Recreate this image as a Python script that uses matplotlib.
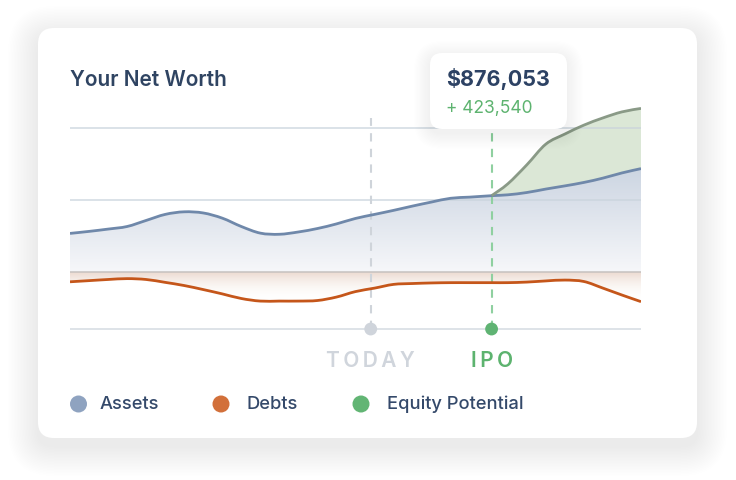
import numpy as np
import matplotlib
matplotlib.use('Agg')
import matplotlib.pyplot as plt
from matplotlib.patches import FancyBboxPatch, Circle, PathPatch
from matplotlib.path import Path
from matplotlib.colors import LinearSegmentedColormap

plt.rcParams['font.family'] = ['Inter', 'DejaVu Sans']

# data, months since start, values in $k
months = [0, 2, 4, 6, 8, 10, 12, 14, 16, 18, 20, 22, 24, 26, 28, 30, 32, 34, 36, 38, 40, 42,
          44.3, 46, 48, 50, 52, 54, 56, 58, 60]
assets = [134, 141, 149, 158, 179, 200, 209, 205, 187, 158, 135, 131, 139, 151, 167, 186, 200, 214,
          229, 243, 256, 260, 265, 268, 276, 288, 299, 311, 326, 344, 359]
debts = [-34, -30, -26, -23, -26, -36, -47, -61, -76, -92, -101, -101, -101, -99, -87, -68, -56, -43,
         -40, -38, -37, -37, -37, -37, -35, -31, -28, -33, -56, -80, -103]
equity_start = 22  # index of the IPO month
equity = [265, 306, 372, 444, 479, 510, 535, 556, 568]

today_x = 31.6
ipo_x = 44.3
y_floor = -198
grid_levels = [250, 500]
markers = ['TODAY', 'IPO']

title = 'Your Net Worth'
tooltip_value = '$876,053'
tooltip_gain = '+ 423,540'
legend_labels = ['Assets', 'Debts', 'Equity Potential']
legend_colors = ['#8fa3c0', '#d2703a', '#62b574']

W, H = 736, 480
fig = plt.figure(figsize=(W / 100, H / 100), dpi=100)
fig.patch.set_facecolor('white')

# background layer: card + shadow + title + legend (pixel coords)
bg = fig.add_axes([0, 0, 1, 1], zorder=0)
bg.set_xlim(0, W)
bg.set_ylim(H, 0)
bg.axis('off')


def soft_box(ax, x0, y0, w, h, r, layers, spread, dy, alpha, z):
    for i in range(layers, 0, -1):
        e = spread * i / layers
        ax.add_patch(FancyBboxPatch((x0 - e, y0 - e + dy), w + 2 * e, h + 2 * e,
                                    boxstyle=f'round,pad=0,rounding_size={r + e}',
                                    fc='#000000', ec='none', alpha=alpha, zorder=z))
    ax.add_patch(FancyBboxPatch((x0, y0), w, h, boxstyle=f'round,pad=0,rounding_size={r}',
                                fc='white', ec='none', zorder=z + 1))


soft_box(bg, 38, 28, 659, 410, 16, 20, 30, 8, 0.0022, 1)

bg.text(70, 79.5, title, fontsize=15, fontweight='semibold', color='#2f4462', va='center', zorder=5)

legend_dot_x = [78.5, 221, 361]
legend_text_x = [100, 247, 387]
for lx, tx, lab, col in zip(legend_dot_x, legend_text_x, legend_labels, legend_colors):
    bg.add_patch(Circle((lx, 404), 8.5, fc=col, ec='none', zorder=5))
    bg.text(tx, 404.5, lab, fontsize=13.2, fontweight='medium', color='#34496a',
            va='center', zorder=5)

# chart layer
top_px, bot_px = 90, 340
ax = fig.add_axes([70 / W, (H - bot_px) / H, 571 / W, (bot_px - top_px) / H], zorder=1)
ax.patch.set_alpha(0)
ax.axis('off')
px2val = 250 / 72
ylo, yhi = (272 - bot_px) * px2val, (272 - top_px) * px2val

x = np.array(months, dtype=float)
a = np.array(assets, dtype=float)
d = np.array(debts, dtype=float)
ex = x[equity_start:]
e = np.array(equity, dtype=float)


def smooth(xs, ys):
    # Catmull-Rom through the read points, as cubic bezier segments
    p = np.column_stack([xs, ys])
    pp = np.vstack([p[0], p, p[-1]])
    verts = [p[0]]
    for i in range(len(p) - 1):
        p0, p1, p2, p3 = pp[i], pp[i + 1], pp[i + 2], pp[i + 3]
        verts += [p1 + (p2 - p0) / 6, p2 - (p3 - p1) / 6, p2]
    return verts


def curve_path(xs, ys):
    v = smooth(xs, ys)
    return Path(v, [Path.MOVETO] + [Path.CURVE4] * (len(v) - 1))


def band_path(xs, top, bottom):
    vt = smooth(xs, top)
    vb = smooth(xs, bottom)[::-1]
    verts = vt + vb + [vt[0]]
    codes = ([Path.MOVETO] + [Path.CURVE4] * (len(vt) - 1) +
             [Path.LINETO] + [Path.CURVE4] * (len(vb) - 1) + [Path.CLOSEPOLY])
    return Path(verts, codes)


def gradient_fill(path, xs, c_lo, c_hi, v_lo, v_hi, z):
    cmap = LinearSegmentedColormap.from_list('g', [c_lo, c_hi])
    grad = np.linspace(0, 1, 256).reshape(-1, 1)
    im = ax.imshow(grad, extent=[xs[0], xs[-1], v_lo, v_hi], origin='lower', aspect='auto',
                   cmap=cmap, zorder=z, interpolation='bilinear')
    im.set_clip_path(path, transform=ax.transData)


zero = np.zeros_like(x)
gradient_fill(band_path(x, a, zero), x, (0.965, 0.97, 0.98, 1), (0.80, 0.835, 0.885, 1), 0, 360, 1)
gradient_fill(band_path(x, zero, d), x, (1, 1, 1, 0), (0.93, 0.86, 0.82, 1), -100, 0, 1)
ax.add_patch(PathPatch(band_path(ex, e, a[equity_start:]), fc='#dbe7d6', ec='none', zorder=1.5))

for g in grid_levels:
    ax.axhline(g, color='#c9d3dc', lw=1.1, alpha=0.85, zorder=2)
ax.axhline(0, color='#c6c1bf', lw=1.1, zorder=2)
ax.axhline(y_floor, color='#d5dbe1', lw=1.1, zorder=2)

ax.vlines(today_x, y_floor, 535, colors='#cfd4da', lw=1.5, linestyles=(0, (4, 3.5)), zorder=2.5)
ax.vlines(ipo_x, y_floor, 500, colors='#8fd0a0', lw=1.5, linestyles=(0, (4, 3.5)), zorder=2.5)

for xs, ys, col in [(x, a, '#6f88aa'), (x, d, '#c5561a'), (ex, e, '#8a9a87')]:
    ax.add_patch(PathPatch(curve_path(xs, ys), fill=False, ec=col, lw=2.0,
                           joinstyle='round', capstyle='butt', zorder=3))

ax.scatter([today_x, ipo_x], [y_floor, y_floor], s=85, c=['#cfd4db', '#5fb373'], lw=0,
           clip_on=False, zorder=4)
for mx, lab, col in zip([today_x, ipo_x], markers, ['#d0d5dc', '#5db36f']):
    ax.annotate('\u2006'.join(lab), (mx, y_floor), xytext=(0, -32), textcoords='offset pixels',
                ha='center', va='center', fontsize=15, fontweight='semibold', color=col)

ax.set_xlim(0, 60)
ax.set_ylim(ylo, yhi)

# tooltip layer
ov = fig.add_axes([0, 0, 1, 1], zorder=2)
ov.set_xlim(0, W)
ov.set_ylim(H, 0)
ov.axis('off')
ov.patch.set_alpha(0)
soft_box(ov, 430, 53, 137, 76, 12, 14, 16, 4, 0.003, 1)
ov.text(446, 79, tooltip_value, fontsize=15.5, fontweight='bold', color='#2d4264', va='center', zorder=5)
ov.text(446, 108, tooltip_gain, fontsize=12.5, color='#5db36f', va='center', zorder=5)

fig.savefig('out.png', dpi=100, facecolor='white')
